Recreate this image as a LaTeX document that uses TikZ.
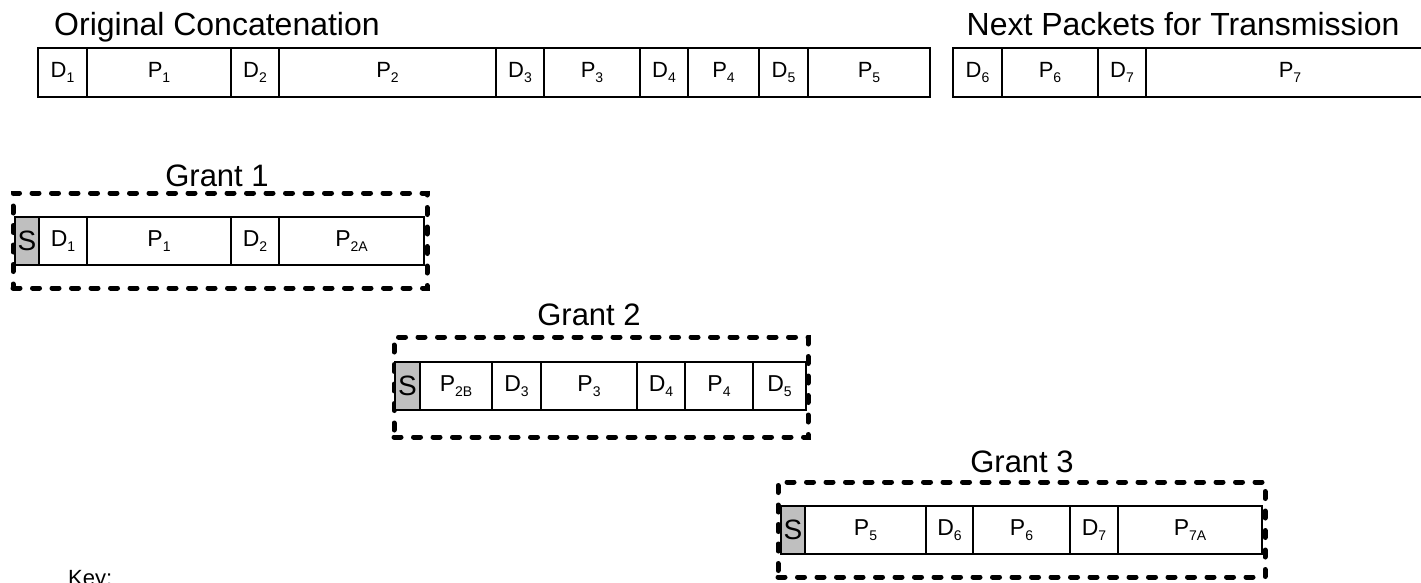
\documentclass[tikz,border=0pt]{standalone}
\usepackage{fontspec}
\setmainfont{Liberation Sans}
\newcommand\sbs[1]{\raisebox{-0.2em}{\fontsize{14}{14}\selectfont #1}}
\begin{document}
\begin{tikzpicture}[x=1pt,y=-1pt,
  cell/.style={draw, line width=1.5pt, inner sep=0pt, outer sep=0pt, minimum height=48pt,
    anchor=north west, font=\fontsize{23}{27}\selectfont},
  topcell/.style={cell, minimum height=49pt, font=\fontsize{22}{26}\selectfont},
  scell/.style={cell, fill=black!25, font=\fontsize{28}{32}\selectfont},
  title/.style={anchor=base, inner sep=0pt, font=\fontsize{32}{38}\selectfont},
  gtitle/.style={title, font=\fontsize{31}{37}\selectfont},
  dashbox/.style={draw, line width=5pt, dash pattern=on 7pt off 12.5pt, line cap=round,
    inner sep=0pt, outer sep=0pt, anchor=north west}
]
\useasboundingbox (0,0) rectangle (1421,582);
\clip (0,0) rectangle (1421,582);

% Titles
\node[title] (torig) at (217,35) {Original Concatenation};
\node[title] (tnext) at (1183,35) {Next Packets for Transmission};

% Original concatenation
\node[topcell, minimum width=49] (o1) at (38,48) {D\sbs{1}};
\node[topcell, minimum width=144] (o2) at (o1.north east) {P\sbs{1}};
\node[topcell, minimum width=48] (o3) at (o2.north east) {D\sbs{2}};
\node[topcell, minimum width=217] (o4) at (o3.north east) {P\sbs{2}};
\node[topcell, minimum width=48] (o5) at (o4.north east) {D\sbs{3}};
\node[topcell, minimum width=96] (o6) at (o5.north east) {P\sbs{3}};
\node[topcell, minimum width=48] (o7) at (o6.north east) {D\sbs{4}};
\node[topcell, minimum width=71] (o8) at (o7.north east) {P\sbs{4}};
\node[topcell, minimum width=49] (o9) at (o8.north east) {D\sbs{5}};
\node[topcell, minimum width=122] (o10) at (o9.north east) {P\sbs{5}};

% Next packets
\node[topcell, minimum width=49] (n1) at (953,48) {D\sbs{6}};
\node[topcell, minimum width=96] (n2) at (n1.north east) {P\sbs{6}};
\node[topcell, minimum width=48] (n3) at (n2.north east) {D\sbs{7}};
\node[topcell, minimum width=288] (n4) at (n3.north east) {P\sbs{7}};

% Grant 1
\node[gtitle] (tg1) at (217,186) {Grant 1};
\node[dashbox, minimum width=414, minimum height=95] (g1box) at (13,193) {};
\node[scell, minimum width=24] (a1) at (15,217) {S};
\node[cell, minimum width=48] (a2) at (a1.north east) {D\sbs{1}};
\node[cell, minimum width=144] (a3) at (a2.north east) {P\sbs{1}};
\node[cell, minimum width=48] (a4) at (a3.north east) {D\sbs{2}};
\node[cell, minimum width=145] (a5) at (a4.north east) {P\sbs{2A}};

% Grant 2
\node[gtitle] (tg2) at (589,325) {Grant 2};
\node[dashbox, minimum width=414, minimum height=100] (g2box) at (394,337) {};
\node[scell, minimum width=25] (b1) at (395,362) {S};
\node[cell, minimum width=72] (b2) at (b1.north east) {P\sbs{2B}};
\node[cell, minimum width=49] (b3) at (b2.north east) {D\sbs{3}};
\node[cell, minimum width=96] (b4) at (b3.north east) {P\sbs{3}};
\node[cell, minimum width=48] (b5) at (b4.north east) {D\sbs{4}};
\node[cell, minimum width=68] (b6) at (b5.north east) {P\sbs{4}};
\node[cell, minimum width=53] (b7) at (b6.north east) {D\sbs{5}};

% Grant 3
\node[gtitle] (tg3) at (1022,472) {Grant 3};
\node[dashbox, minimum width=487, minimum height=95] (g3box) at (778,482) {};
\node[scell, minimum width=24] (c1) at (781,506) {S};
\node[cell, minimum width=121] (c2) at (c1.north east) {P\sbs{5}};
\node[cell, minimum width=47] (c3) at (c2.north east) {D\sbs{6}};
\node[cell, minimum width=97] (c4) at (c3.north east) {P\sbs{6}};
\node[cell, minimum width=48] (c5) at (c4.north east) {D\sbs{7}};
\node[cell, minimum width=144] (c6) at (c5.north east) {P\sbs{7A}};

% Key
\node[anchor=base west, inner sep=0pt, font=\fontsize{22}{26}\selectfont] (key) at (68,585) {Key:};
\end{tikzpicture}
\end{document}
